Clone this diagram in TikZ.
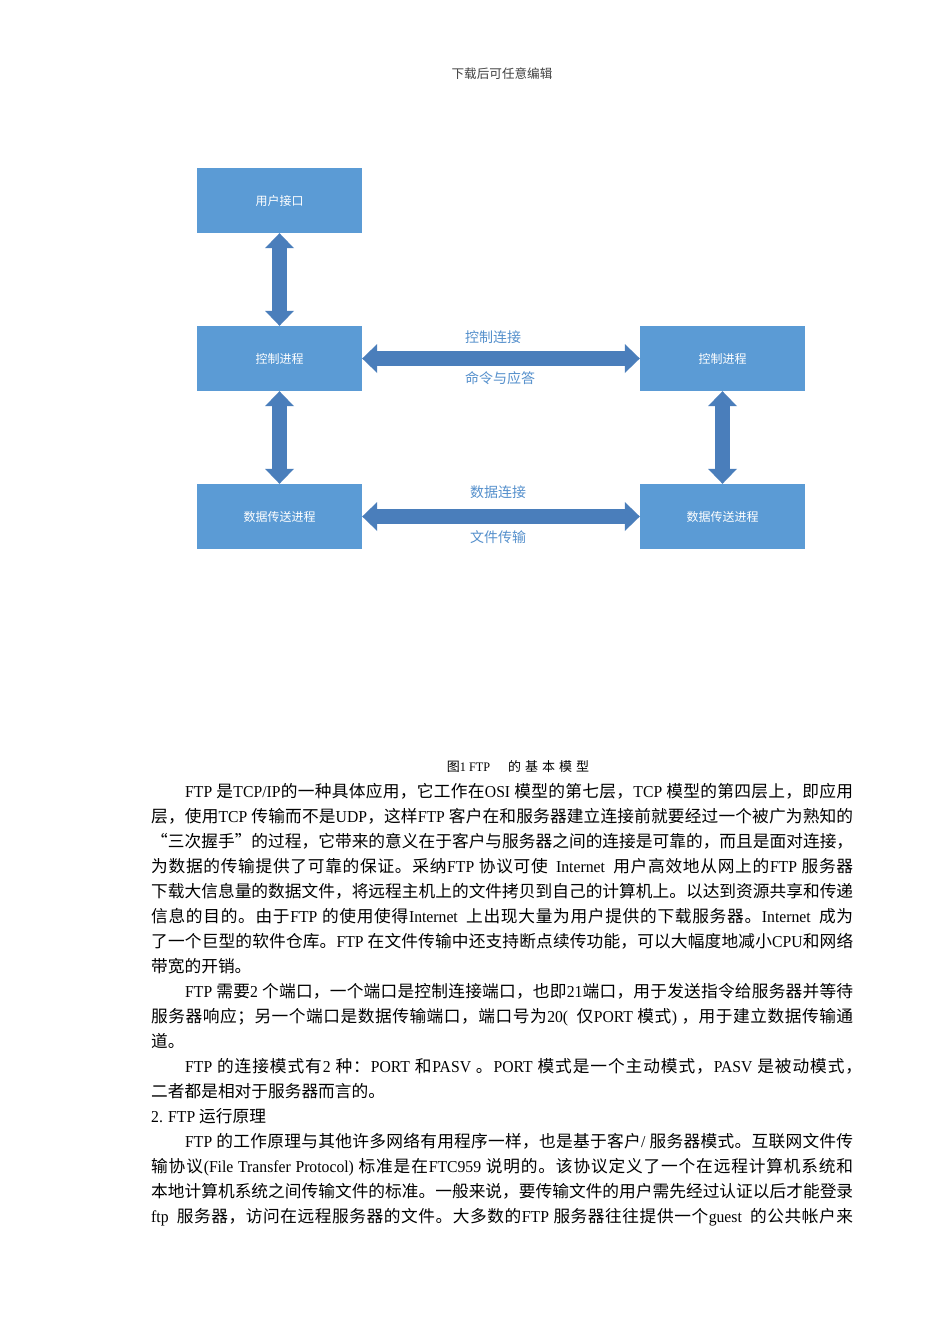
\documentclass[tikz,border=0pt]{standalone}
\usepackage{fontspec}
\setmainfont{Liberation Serif}[FakeStretch=0.94]
\newfontfamily\cjk{Noto Sans CJK SC}
\usetikzlibrary{arrows.meta}

\definecolor{boxblue}{HTML}{5B9BD5}
\definecolor{arrowblue}{HTML}{4A7EBB}
\definecolor{labelblue}{HTML}{5590CC}

% CJK runs get the CJK font by themselves
\XeTeXinterchartokenstate=1
\newXeTeXintercharclass\cjkclass
\newcount\cjkcode
\newcommand\cjkrange[2]{%
  \cjkcode=#1\relax
  \loop
    \XeTeXcharclass\cjkcode=\cjkclass
    \advance\cjkcode by 1\relax
  \ifnum\cjkcode<#2\repeat}
\cjkrange{"4E00}{"A000}
\cjkrange{"3000}{"3040}
\cjkrange{"FF00}{"FFF0}
\XeTeXcharclass"201C=\cjkclass
\XeTeXcharclass"201D=\cjkclass
\newcommand\cjkglue{\hskip0pt plus 2pt\relax}
\XeTeXinterchartoks 0 \cjkclass={\cjkglue\begingroup\cjk}
\XeTeXinterchartoks 4095 \cjkclass={\begingroup\cjk}
\XeTeXinterchartoks \cjkclass 0={\endgroup\cjkglue}
\XeTeXinterchartoks \cjkclass 4095={\endgroup}
\XeTeXinterchartoks \cjkclass \cjkclass={\cjkglue}

% a justified line of the body text
\newcommand\jline[2]{\makebox[#1][s]{#2}}

\begin{document}
\begin{tikzpicture}[
    x=1pt, y=-1pt,
    box/.style={rectangle, fill=boxblue, minimum width=165pt, minimum height=65pt,
                inner sep=0pt, text=white, font=\fontsize{12}{14}\selectfont},
    link/.style={draw=arrowblue, line width=15pt, <->},
    lbl/.style={text=labelblue, inner sep=0pt, font=\fontsize{14}{16}\selectfont},
    body/.style={anchor=base west, inner sep=0pt, font=\fontsize{16.7}{25}\selectfont},
    >={Triangle[length=15pt,width=29pt,line width=0pt]}
]
    \useasboundingbox (0,0) rectangle (950,1344);
    \fill[white] (0,0) rectangle (950,1344);

    % Header
    \node[text=black!75, font=\fontsize{12.6}{14}\selectfont] (head) at (502,74) {下载后可任意编辑};

    % Boxes
    \node[box] (ui) at (279.5,200.5) {用户接口};
    \node[box] (ctlL) at (279.5,358.5) {控制进程};
    \node[box] (datL) at (279.5,516.5) {数据传送进程};
    \node[box] (ctlR) at (722.5,358.5) {控制进程};
    \node[box] (datR) at (722.5,516.5) {数据传送进程};

    % Arrows
    \draw[link] (ui) -- (ctlL);
    \draw[link] (ctlL) -- (datL);
    \draw[link] (ctlR) -- (datR);
    \draw[link] (ctlL) -- (ctlR);
    \draw[link] (datL) -- (datR);

    % Arrow labels
    \node[lbl] (ctlcon) at (493,337) {控制连接};
    \node[lbl] (cmd) at (500,378) {命令与应答};
    \node[lbl] (datcon) at (498,492) {数据连接};
    \node[lbl] (file) at (498,537) {文件传输};

    % Caption
    \node[font=\fontsize{13}{15}\selectfont] (cap) at (518,767)
        {图1 FTP\hspace{18pt}的\hspace{4pt}基\hspace{4pt}本\hspace{4pt}模\hspace{4pt}型};

    % Body text
    \node[body] (l1) at (185,797) {\jline{668pt}{FTP 是TCP/IP的一种具体应用，它工作在OSI 模型的第七层，TCP 模型的第四层上，即应用}};
    \node[body] (l2) at (151,822) {\jline{702pt}{层，使用TCP 传输而不是UDP，这样FTP 客户在和服务器建立连接前就要经过一个被广为熟知的}};
    \node[body] (l3) at (151,847) {\jline{702pt}{“三次握手”的过程，它带来的意义在于客户与服务器之间的连接是可靠的，而且是面对连接，}};
    \node[body] (l4) at (151,872) {\jline{702pt}{为数据的传输提供了可靠的保证。采纳FTP 协议可使\enspace Internet\enspace 用户高效地从网上的FTP 服务器}};
    \node[body] (l5) at (151,897) {\jline{702pt}{下载大信息量的数据文件，将远程主机上的文件拷贝到自己的计算机上。以达到资源共享和传递}};
    \node[body] (l6) at (151,922) {\jline{702pt}{信息的目的。由于FTP 的使用使得Internet\enspace 上出现大量为用户提供的下载服务器。Internet\enspace 成为}};
    \node[body] (l7) at (151,947) {\jline{702pt}{了一个巨型的软件仓库。FTP 在文件传输中还支持断点续传功能，可以大幅度地减小CPU和网络}};
    \node[body] (l8) at (151,972) {带宽的开销。};
    \node[body] (l9) at (185,997) {\jline{668pt}{FTP 需要2 个端口，一个端口是控制连接端口，也即21端口，用于发送指令给服务器并等待}};
    \node[body] (l10) at (151,1022) {\jline{702pt}{服务器响应；另一个端口是数据传输端口，端口号为20(\enspace 仅PORT 模式) ，用于建立数据传输通}};
    \node[body] (l11) at (151,1047) {道。};
    \node[body] (l12) at (185,1072) {\jline{677pt}{FTP 的连接模式有2 种：PORT 和PASV 。PORT 模式是一个主动模式，PASV 是被动模式，}};
    \node[body] (l13) at (151,1097) {二者都是相对于服务器而言的。};
    \node[body] (l14) at (151,1122) {2. FTP 运行原理};
    \node[body] (l15) at (185,1147) {\jline{668pt}{FTP 的工作原理与其他许多网络有用程序一样，也是基于客户/ 服务器模式。互联网文件传}};
    \node[body] (l16) at (151,1172) {\jline{702pt}{输协议(File Transfer Protocol) 标准是在FTC959 说明的。该协议定义了一个在远程计算机系统和}};
    \node[body] (l17) at (151,1197) {\jline{702pt}{本地计算机系统之间传输文件的标准。一般来说，要传输文件的用户需先经过认证以后才能登录}};
    \node[body] (l18) at (151,1222) {\jline{702pt}{ftp\enspace 服务器，访问在远程服务器的文件。大多数的FTP 服务器往往提供一个guest\enspace 的公共帐户来}};
\end{tikzpicture}
\end{document}
